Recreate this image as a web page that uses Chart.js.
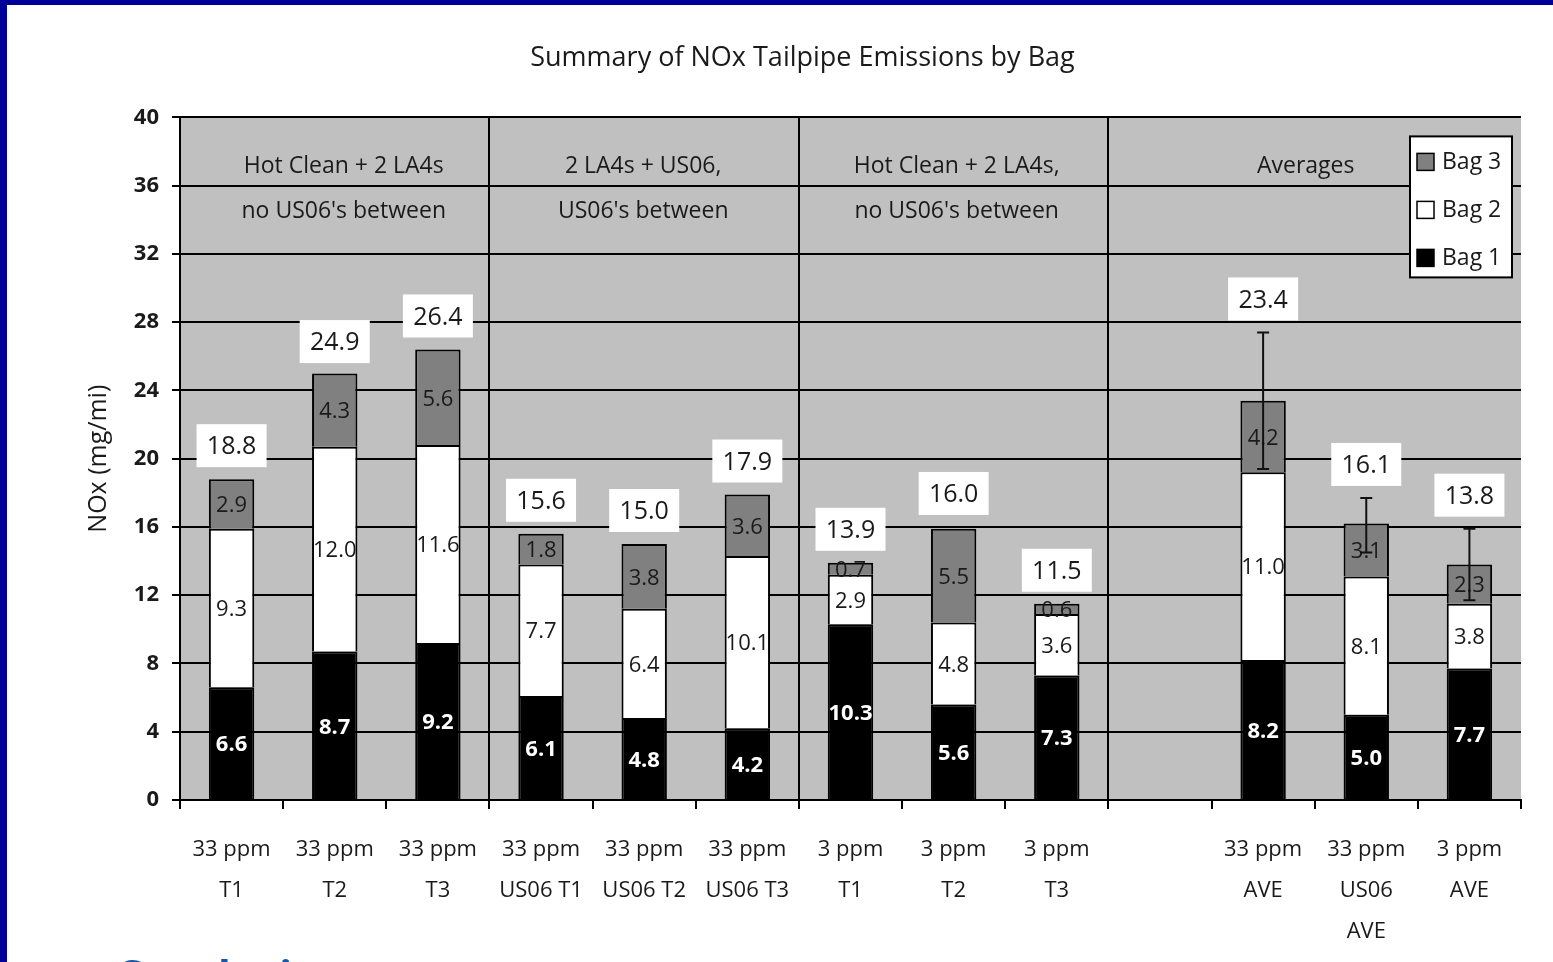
<!DOCTYPE html>
<html>
<head>
<meta charset="utf-8">
<title>Summary of NOx Tailpipe Emissions by Bag</title>
<script src="https://cdn.jsdelivr.net/npm/chart.js@4/dist/chart.umd.min.js"></script>
<style>
  html, body { margin: 0; padding: 0; background: #fff; overflow: hidden; }
  #wrap { position: relative; width: 1553px; height: 962px; overflow: hidden; }
  #noxChart { position: absolute; left: 0; top: 0; }
  .edge { position: absolute; background: #000099; }
  #foot { position: absolute; left: 116px; top: 945px; font: bold 42px "Open Sans", sans-serif; color: #1a56a8; }
</style>
</head>
<body>
<div id="wrap">
  <canvas id="noxChart" width="1553" height="962"></canvas>
  <div class="edge" style="left:0;top:0;width:1553px;height:5px"></div>
  <div class="edge" style="left:0;top:0;width:7px;height:962px"></div>
  <div id="foot">Conclusions</div>
</div>
<script>
// ── data
const categories = [
  ["33 ppm", "T1"], ["33 ppm", "T2"], ["33 ppm", "T3"],
  ["33 ppm", "US06 T1"], ["33 ppm", "US06 T2"], ["33 ppm", "US06 T3"],
  ["3 ppm", "T1"], ["3 ppm", "T2"], ["3 ppm", "T3"],
  [""],
  ["33 ppm", "AVE"], ["33 ppm", "US06", "AVE"], ["3 ppm", "AVE"]
];
const bag1 = [6.6, 8.7, 9.2, 6.1, 4.8, 4.2, 10.3, 5.6, 7.3, null, 8.2, 5.0, 7.7];
const bag2 = [9.3, 12.0, 11.6, 7.7, 6.4, 10.1, 2.9, 4.8, 3.6, null, 11.0, 8.1, 3.8];
const bag3 = [2.9, 4.3, 5.6, 1.8, 3.8, 3.6, 0.7, 5.5, 0.6, null, 4.2, 3.1, 2.3];
const totals = [18.8, 24.9, 26.4, 15.6, 15.0, 17.9, 13.9, 16.0, 11.5, null, 23.4, 16.1, 13.8];
const errors = [null, null, null, null, null, null, null, null, null, null, 4.0, 1.6, 2.1];

const groupLabels = [
  ["Hot Clean + 2 LA4s", "no US06's between"],
  ["2 LA4s + US06,", "US06's between"],
  ["Hot Clean + 2 LA4s,", "no US06's between"],
  ["Averages"]
];
const groupStart = [0, 3, 6, 9];
const groupEnd = [2, 5, 8, 12];
const separators = [3, 6, 9];   // vertical lines before these categories

const FONT = '"Open Sans", "DejaVu Sans", sans-serif';
const INK = "#1a1a1a";
const groupNudge = [9, -1, 3, -9];   // caption offsets in px

// ── plot background
const plotBg = {
  id: "plotBg",
  beforeDraw(chart) {
    const { ctx, chartArea: a } = chart;
    ctx.save();
    ctx.fillStyle = "#c0c0c0";
    ctx.fillRect(a.left, a.top, a.right - a.left, a.bottom - a.top);
    ctx.restore();
  }
};

// ── group captions, segment labels, totals, error bars, legend
const overlay = {
  id: "overlay",
  afterDatasetsDraw(chart) {
    const { ctx, chartArea: a, scales: { x, y } } = chart;
    ctx.save();
    ctx.textAlign = "center";
    ctx.textBaseline = "middle";

    // group captions
    ctx.fillStyle = INK;
    ctx.font = "23px " + FONT;
    groupLabels.forEach((lines, g) => {
      const cx = (x.getPixelForValue(groupStart[g]) + x.getPixelForValue(groupEnd[g])) / 2 + groupNudge[g];
      lines.forEach((t, k) => ctx.fillText(t, cx, a.top + 49 + k * 45));
    });

    // segment values
    chart.data.datasets.forEach((ds, di) => {
      chart.getDatasetMeta(di).data.forEach((el, i) => {
        const v = ds.data[i];
        if (v == null) return;
        ctx.fillStyle = di === 0 ? "#fff" : INK;
        ctx.font = (di === 0 ? "bold " : "") + "22px " + FONT;
        ctx.fillText(v.toFixed(1), el.x, (el.y + el.base) / 2 + 2);
      });
    });

    // error bars
    ctx.strokeStyle = "#111";
    ctx.lineWidth = 2;
    totals.forEach((t, i) => {
      const e = errors[i];
      if (t == null || e == null) return;
      const cx = x.getPixelForValue(i);
      const hi = y.getPixelForValue(t + e), lo = y.getPixelForValue(t - e);
      ctx.beginPath();
      ctx.moveTo(cx, hi); ctx.lineTo(cx, lo);
      ctx.moveTo(cx - 6, hi); ctx.lineTo(cx + 6, hi);
      ctx.moveTo(cx - 6, lo); ctx.lineTo(cx + 6, lo);
      ctx.stroke();
    });

    // totals in white boxes
    ctx.font = "25px " + FONT;
    totals.forEach((t, i) => {
      if (t == null) return;
      const cx = x.getPixelForValue(i);
      const top = y.getPixelForValue(t + (errors[i] || 0));
      const cy = top - 33;
      ctx.fillStyle = "#fff";
      ctx.fillRect(cx - 35, cy - 22, 70, 43);
      ctx.fillStyle = INK;
      ctx.fillText(t.toFixed(1), cx, cy + 1);
    });

    // legend box
    const lx = a.right - 111, ly = a.top + 19;
    ctx.fillStyle = "#fff";
    ctx.fillRect(lx, ly, 102, 141);
    ctx.strokeStyle = "#000";
    ctx.lineWidth = 2;
    ctx.strokeRect(lx, ly, 102, 141);
    ctx.textAlign = "left";
    ctx.font = "23px " + FONT;
    [2, 1, 0].forEach((di, k) => {
      const ds = chart.data.datasets[di];
      const ry = ly + 26 + k * 48;
      ctx.fillStyle = ds.backgroundColor;
      ctx.fillRect(lx + 7, ry - 9, 17, 17);
      ctx.strokeStyle = "#000";
      ctx.lineWidth = 1.5;
      ctx.strokeRect(lx + 7, ry - 9, 17, 17);
      ctx.fillStyle = INK;
      ctx.fillText(ds.label, lx + 32, ry);
    });
    ctx.restore();
  }
};

const barStyle = { borderColor: "#000", borderWidth: 2, barPercentage: 0.44, categoryPercentage: 1 };

new Chart(document.getElementById("noxChart"), {
  type: "bar",
  data: {
    labels: categories,
    datasets: [
      { label: "Bag 1", data: bag1, backgroundColor: "#000000", ...barStyle },
      { label: "Bag 2", data: bag2, backgroundColor: "#ffffff", ...barStyle },
      { label: "Bag 3", data: bag3, backgroundColor: "#808080", ...barStyle }
    ]
  },
  options: {
    responsive: false,
    devicePixelRatio: 1,
    animation: false,
    layout: { padding: { left: 84, right: 32, top: 0, bottom: 0 } },
    plugins: {
      legend: { display: false },
      tooltip: { enabled: false },
      title: {
        display: true,
        text: "Summary of NOx Tailpipe Emissions by Bag",
        color: INK,
        font: { family: FONT, size: 27, weight: "normal", lineHeight: 1.2 },
        padding: { top: 42, bottom: 43 }
      }
    },
    scales: {
      x: {
        stacked: true,
        offset: true,
        afterFit(s) { s.height = 162; },
        grid: {
          offset: true,
          drawOnChartArea: true,
          lineWidth: 2,
          color: c => separators.includes(c.index) ? "#000" : "rgba(0,0,0,0)",
          tickColor: "#000",
          tickLength: 9
        },
        border: { color: "#000", width: 2 },
        ticks: {
          color: INK,
          padding: 20,
          maxRotation: 0,
          autoSkip: false,
          font: { family: FONT, size: 22, lineHeight: 1.87 }
        }
      },
      y: {
        stacked: true,
        min: 0,
        max: 40,
        afterFit(s) { s.width = 96; },
        grid: { color: "#000", lineWidth: 2, tickLength: 8, tickColor: "#000" },
        border: { color: "#000", width: 2 },
        ticks: {
          stepSize: 4,
          color: INK,
          padding: 13,
          font: { family: FONT, size: 22, weight: "bold" }
        },
        title: {
          display: true,
          text: "NOx (mg/mi)",
          color: INK,
          padding: 0,
          font: { family: FONT, size: 25 }
        }
      }
    }
  },
  plugins: [plotBg, overlay]
});
</script>
</body>
</html>
